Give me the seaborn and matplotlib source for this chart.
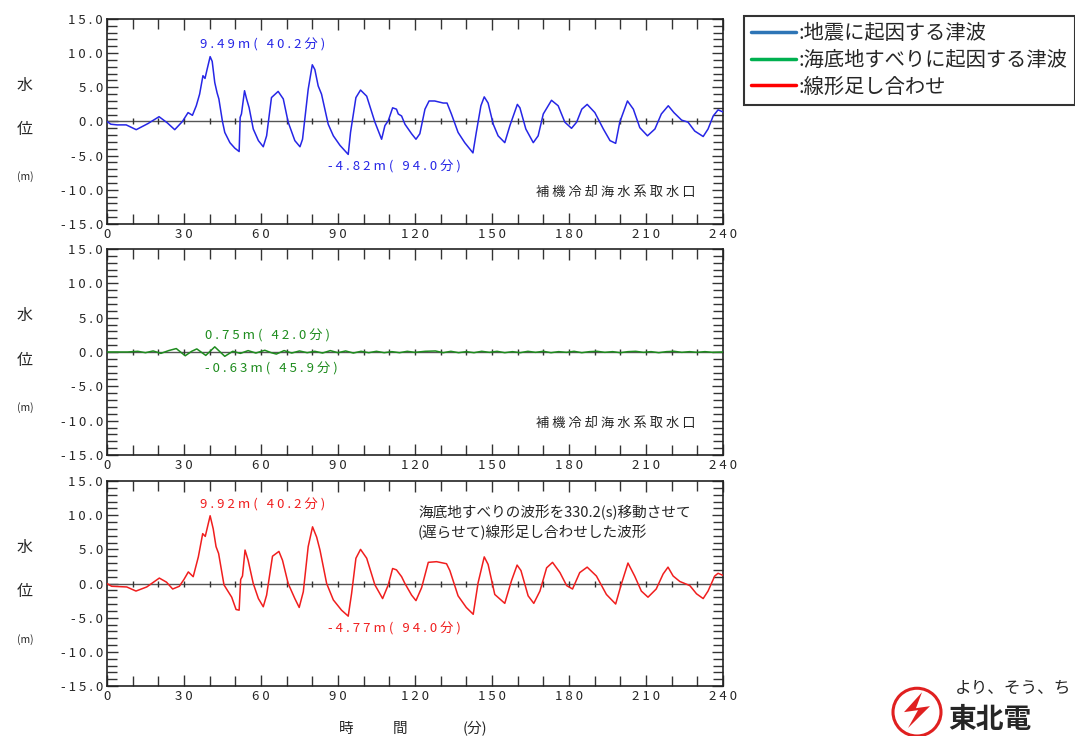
import numpy as np
import pandas as pd
import matplotlib
matplotlib.use('Agg')
import matplotlib.pyplot as plt
import seaborn as sns
from matplotlib.ticker import MultipleLocator, FuncFormatter
from matplotlib.patches import Circle, Polygon
from matplotlib.lines import Line2D

# ---------------------------
# DATA
# ---------------------------
# earthquake tsunami (min, m)
quake_pts = [
    (0, 0.0), (1.5, -0.4), (4, -0.5), (7.5, -0.5), (11.4, -1.2), (16, -0.3), (20.3, 0.7), (23.5, -0.2),
    (26.4, -1.2), (29.4, 0.0), (31.6, 1.3), (33.3, 0.9), (34.8, 2.3), (36.1, 4.0), (37.4, 6.7), (38.2, 6.3),
    (39, 7.6), (40.2, 9.49), (41, 8.8), (42, 5.7), (42.9, 4.2), (43.6, 3.3), (45, 0.0), (45.9, -1.6),
    (47.9, -3.1), (49.8, -3.9), (51.5, -4.4), (51.9, 0.6), (52.4, 1.1), (53.6, 4.5), (54.4, 3.3), (55.4, 2.0),
    (57, -1.1), (59, -2.8), (60.9, -3.7), (62.2, -2.1), (64.1, 3.5), (66.7, 4.4), (68.7, 3.3), (70.6, -0.1),
    (73.2, -2.8), (75.2, -3.7), (76.2, -2.6), (78.4, 4.7), (80, 8.3), (81, 7.6), (82.3, 5.2), (83.6, 4.0),
    (86.2, -0.4), (88.2, -2.1), (90.8, -3.5), (94, -4.82), (94.9, -1.6), (97, 3.5), (98.8, 4.6), (101.2, 3.7),
    (104.4, -0.1), (107, -2.6), (108.3, -0.6), (109.6, 0.1), (111.3, 2.0), (112.8, 1.8), (113.5, 1.1),
    (114.8, 0.8), (116.1, -0.4), (118.7, -1.8), (120.4, -2.6), (121.9, -1.8), (123.9, 1.8), (125.5, 3.0),
    (127.7, 3.0), (131, 2.7), (132.5, 2.7), (134.2, 1.1), (136.8, -1.6), (139.4, -3.1), (142.6, -4.6),
    (143.9, -1.6), (145.7, 2.3), (147, 3.6), (148.5, 2.7), (150.5, -0.4), (152.4, -2.1), (155, -3.1),
    (157, -0.6), (159.9, 2.5), (160.9, 2.0), (163.2, -1.1), (166.1, -3.1), (168, -2.1), (170, 1.1),
    (173.2, 3.1), (175.8, 2.3), (178.4, -0.1), (181, -1.0), (183, -0.1), (185, 1.8), (187.1, 2.5),
    (190.1, 1.3), (193.4, -1.1), (196, -2.8), (198.2, -3.2), (199.8, -0.1), (202.8, 3.0), (205.1, 1.8),
    (207.6, -0.9), (210.6, -2.1), (213.5, -1.1), (216, 1.1), (218.7, 2.3), (220.9, 1.3), (223.9, 0.2),
    (226.4, -0.1), (229, -1.4), (232.3, -2.2), (234.2, -1.1), (236.2, 0.8), (238.1, 1.7), (240, 1.4),
]

# submarine landslide tsunami (min, m)
slide_pts = [
    (0, 0.0), (8, 0.0), (12, 0.1), (15, -0.1), (18, 0.15), (21, -0.2), (24, 0.2), (27, 0.5), (30.5, -0.55),
    (33, 0.1), (35, 0.45), (38.5, -0.5), (42, 0.75), (45.9, -0.63), (49, 0.1), (52, -0.2), (55, 0.2),
    (58, -0.15), (61.5, 0.25), (64, -0.1), (66, -0.3), (69, 0.2), (72, -0.15), (75, 0.15), (78, -0.1),
    (81, 0.1), (84, -0.15), (87, 0.2), (90, -0.1), (93, 0.15), (96, -0.15), (99, 0.1), (102, -0.1),
    (105, 0.1), (108, -0.1), (111, 0.05), (114, -0.1), (117, 0.1), (120, -0.05), (124, 0.1), (128, 0.15),
    (131, -0.1), (134, 0.1), (137, -0.1), (140, 0.05), (143, -0.1), (146, 0.1), (149, -0.05), (152, 0.1),
    (155, -0.1), (158, 0.05), (161, -0.1), (164, 0.1), (167, -0.05), (170, 0.1), (173, -0.1), (176, 0.05),
    (179, -0.05), (182, 0.1), (185, -0.1), (188, 0.05), (191, 0.1), (194, -0.05), (197, 0.05), (200, -0.1),
    (203, 0.05), (206, 0.1), (209, -0.05), (212, 0.05), (215, -0.1), (218, 0.05), (221, 0.1), (224, -0.05),
    (227, 0.05), (230, -0.05), (233, 0.05), (236, -0.05), (240, 0.0),
]

# linear superposition (min, m)
sum_pts = [
    (0, 0.0), (1.8, -0.4), (7.7, -0.5), (11.3, -1.1), (15.5, -0.5), (20.4, 0.8), (23.2, 0.2), (25.6, -0.8),
    (28.2, -0.4), (30, 0.6), (31.7, 1.7), (33.6, 1.0), (35.6, 3.9), (37.3, 7.3), (38.3, 6.9), (40.2, 9.92),
    (41.4, 8.0), (42.5, 5.4), (43.5, 4.4), (45.6, -0.2), (48.6, -2.0), (50.3, -3.8), (51.5, -3.9), (52.1, 0.6),
    (52.8, 1.1), (53.8, 4.9), (55, 3.4), (57, 0.0), (59, -2.2), (60.9, -3.4), (62.2, -1.7), (64.5, 4.0),
    (67, 4.7), (68.4, 3.4), (70.6, 0.0), (73.2, -2.2), (74.9, -3.5), (76.5, -1.2), (78.4, 5.4), (80.1, 8.3),
    (81.7, 6.8), (83, 4.9), (85.6, 0.0), (88.2, -2.4), (91.4, -3.9), (94, -4.77), (95.3, -1.5), (97, 3.7),
    (98.8, 5.0), (101.2, 3.7), (104.4, -0.2), (107.4, -2.2), (109.6, -0.2), (111.3, 2.2), (112.8, 2.0),
    (114.8, 1.0), (116.1, 0.0), (118.7, -1.7), (120.4, -2.5), (122.6, -0.6), (125.2, 3.1), (128.4, 3.2),
    (132.3, 2.9), (133.6, 1.9), (136.8, -1.8), (140, -3.5), (142.7, -4.5), (144.6, 0.1), (147, 3.9),
    (148.5, 2.8), (151.1, -1.6), (155, -2.9), (157.6, 0.4), (159.8, 2.7), (161.3, 1.9), (164.1, -1.8),
    (166.3, -2.9), (168.7, -1.1), (171.3, 2.3), (173.6, 3.1), (176.5, 1.6), (179.1, -0.3), (181.4, -0.8),
    (184.2, 1.6), (187.1, 2.4), (190.7, 1.1), (194.6, -1.6), (198.2, -3.0), (200.4, -0.1), (203, 3.0),
    (205.6, 1.1), (208.2, -1.1), (210.8, -2.0), (214, -0.8), (216.7, 1.4), (218.6, 2.4), (220.6, 1.1),
    (223.2, 0.3), (227.1, -0.3), (229.7, -1.5), (232.3, -2.2), (234.2, -1.1), (236.8, 1.1), (238.1, 1.5),
    (240, 1.2),
]

# annotations: (text, x, y)
quake_notes = [('9.49m( 40.2分)', 36.2, 11.2), ('-4.82m( 94.0分)', 86.1, -6.6)]
slide_notes = [('0.75m( 42.0分)', 38.2, 2.3), ('-0.63m( 45.9分)', 38.2, -2.5)]
sum_notes = [('9.92m( 40.2分)', 36.2, 11.5), ('-4.77m( 94.0分)', 86.1, -6.6)]

legend_labels = [':地震に起因する津波', ':海底地すべりに起因する津波', ':線形足し合わせ']
legend_colors = ['#2e75b6', '#00b050', '#ff0000']

station = '補機冷却海水系取水口'
shift_note = '海底地すべりの波形を330.2(s)移動させて\n(遅らせて)線形足し合わせした波形'

# ---------------------------
# STYLE
# ---------------------------
sns.set_style('ticks')
plt.rcParams['font.family'] = ['Noto Sans CJK JP', 'DejaVu Sans']


def spaced(s):
    # the reference prints numbers with wide letter spacing
    return ' '.join(s)


def tick_fmt_y(v, pos):
    return spaced(f'{v:.1f}')


def tick_fmt_x(v, pos):
    return spaced(f'{int(round(v))}')


fig = plt.figure(figsize=(10.75, 7.36), dpi=100)

panels = [
    ([0.0995, 0.6957, 0.573, 0.2785], quake_pts, '#2626e6', quake_notes, True),
    ([0.0995, 0.3818, 0.573, 0.2799], slide_pts, '#1e8c1e', slide_notes, True),
    ([0.0995, 0.0679, 0.573, 0.2785], sum_pts, '#f01e1e', sum_notes, False),
]

for rect, pts, color, notes, show_station in panels:
    ax = fig.add_axes(rect)
    df = pd.DataFrame(pts, columns=['time', 'level'])

    ax.axhline(0, color='#555555', lw=1.0, zorder=1)
    xt = np.arange(10, 240, 10)
    ax.scatter(xt, np.zeros_like(xt), marker='|', s=22, color='#333333', linewidths=1.0, zorder=1)

    sns.lineplot(data=df, x='time', y='level', ax=ax, color=color, lw=1.1,
                 sort=False, estimator=None, zorder=3)

    ax.set_xlim(0, 240)
    ax.set_ylim(-15, 15)
    ax.xaxis.set_major_locator(MultipleLocator(30))
    ax.xaxis.set_minor_locator(MultipleLocator(10))
    ax.yaxis.set_major_locator(MultipleLocator(5))
    ax.yaxis.set_minor_locator(MultipleLocator(1))
    ax.xaxis.set_major_formatter(FuncFormatter(tick_fmt_x))
    ax.yaxis.set_major_formatter(FuncFormatter(tick_fmt_y))
    ax.tick_params(which='both', direction='in', top=True, right=True,
                   width=1.0, color='#333333', labelsize=9.5, pad=3)
    ax.tick_params(which='major', length=8)
    ax.tick_params(which='minor', length=7)
    ax.set_xlabel('')
    ax.set_ylabel('')
    for sp in ax.spines.values():
        sp.set_linewidth(1.2)
        sp.set_color('#222222')

    for txt, x, y in notes:
        ax.text(x, y, spaced(txt), color=color, fontsize=9.5, ha='left', va='center')

    ax.text(-0.133, 0.678, '水', transform=ax.transAxes, fontsize=11.5, ha='center', va='center')
    ax.text(-0.133, 0.459, '位', transform=ax.transAxes, fontsize=11.5, ha='center', va='center')
    ax.text(-0.133, 0.229, '(m)', transform=ax.transAxes, fontsize=7.5, ha='center', va='center')

    if show_station:
        ax.text(0.955, 0.155, spaced(station), transform=ax.transAxes, fontsize=9.5,
                ha='right', va='center')
    else:
        ax.text(0.505, 0.80, shift_note, transform=ax.transAxes, fontsize=10.5,
                ha='left', va='center', linespacing=1.35)

# x axis title
fig.text(346 / 1075, 1 - 729 / 736, '時', fontsize=10.5, ha='center', va='center')
fig.text(400 / 1075, 1 - 729 / 736, '間', fontsize=10.5, ha='center', va='center')
fig.text(475 / 1075, 1 - 729 / 736, '(分)', fontsize=10.5, ha='center', va='center')

# legend (the reference crops its right edge)
handles = [Line2D([0], [0], color=c, lw=2.5) for c in legend_colors]
leg = fig.legend(handles, legend_labels, loc='upper left',
                 bbox_to_anchor=(744 / 1075, 1 - 16 / 736), fontsize=14.6,
                 frameon=True, fancybox=False, handlelength=2.2, handletextpad=0.15,
                 labelspacing=0.28, borderpad=0.35, borderaxespad=0)
leg.get_frame().set_edgecolor('black')
leg.get_frame().set_linewidth(1.5)

# company logo (approximate, cropped in the reference)
lax = fig.add_axes([0.80, 0.0, 0.20, 0.10])
lax.set_xlim(0, 215)
lax.set_ylim(0, 74)
lax.axis('off')
lax.add_patch(Circle((57, 24), 24, fill=False, ec='#e02020', lw=2.2))
lax.add_patch(Polygon([[62, 44], [44, 24], [58, 26], [48, 8], [70, 30], [56, 28]],
                      closed=True, fc='#e02020', ec='none'))
lax.text(95, 48, 'より、そう、ち', fontsize=12, ha='left', va='center')
lax.text(88, 16, '東北電', fontsize=20, fontweight='bold', ha='left', va='center')

fig.savefig('out.png', dpi=100)
